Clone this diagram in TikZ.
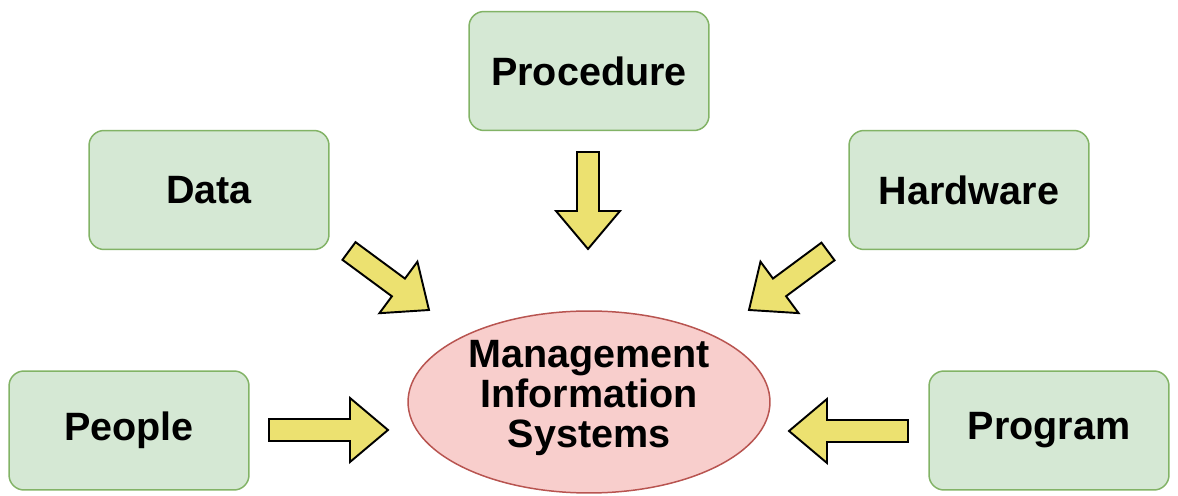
\documentclass[tikz,border=0pt]{standalone}
\usepackage{fontspec}
\setmainfont{Liberation Sans}
\usetikzlibrary{calc,shapes.geometric}
\definecolor{boxfill}{HTML}{D5E8D4}
\definecolor{boxline}{HTML}{82B366}
\definecolor{ellfill}{HTML}{F8CECC}
\definecolor{ellline}{HTML}{B85450}
\definecolor{arrfill}{RGB}{236,225,112}
\newcommand\blockarrow[2]{%
  \coordinate (neck) at ($(#2)!0.76cm!(#1)$);
  \filldraw[barrow] ($(#1)!0.22cm!90:(#2)$) -- ($(neck)!0.22cm!90:(#2)$)
    -- ($(neck)!0.64cm!90:(#2)$) -- (#2) -- ($(neck)!0.64cm!-90:(#2)$)
    -- ($(neck)!0.22cm!-90:(#2)$) -- ($(#1)!0.22cm!-90:(#2)$) -- cycle;}
\tikzset{
  box/.style={draw=boxline, fill=boxfill, line width=0.85pt, rounded corners=0.3cm,
    minimum width=4.8cm, minimum height=2.38cm, inner sep=0pt,
    font=\fontsize{22.5}{22.8}\selectfont\bfseries},
  mis/.style={ellipse, draw=ellline, fill=ellfill, line width=0.85pt,
    minimum width=7.24cm, minimum height=3.64cm, inner sep=0pt, align=center,
    font=\fontsize{22.5}{22.8}\selectfont\bfseries},
  barrow/.style={fill=arrfill, draw=black, line width=1.1pt, line join=miter}
}
\begin{document}
\begin{tikzpicture}[x=0.02cm, y=-0.02cm]
\useasboundingbox (0,0) rectangle (1178,496);
\node[box] (proc) at (589,71) {Procedure};
\node[box] (data) at (209,190) {Data};
\node[box] (hard) at (969,190) {Hardware};
\node[box] (peop) at (129,430.5) {People};
\node[box] (prog) at (1049,430.5) {Program};
\node[mis] (mis) at (589,402) {};
\node[align=center, inner sep=0pt, font=\fontsize{22.5}{22.8}\selectfont\bfseries]
  (mistext) at (589,398) {Management\\Information\\Systems};
\coordinate (procT) at (588,152);
\coordinate (procH) at (588,249);
\coordinate (dataT) at (349,251);
\coordinate (dataH) at (429,310);
\coordinate (hardT) at (828,251.5);
\coordinate (hardH) at (749,310);
\coordinate (peopT) at (269,430);
\coordinate (peopH) at (388,430);
\coordinate (progT) at (908,431);
\coordinate (progH) at (789,431);
\blockarrow{procT}{procH}
\blockarrow{dataT}{dataH}
\blockarrow{hardT}{hardH}
\blockarrow{peopT}{peopH}
\blockarrow{progT}{progH}
\end{tikzpicture}
\end{document}
